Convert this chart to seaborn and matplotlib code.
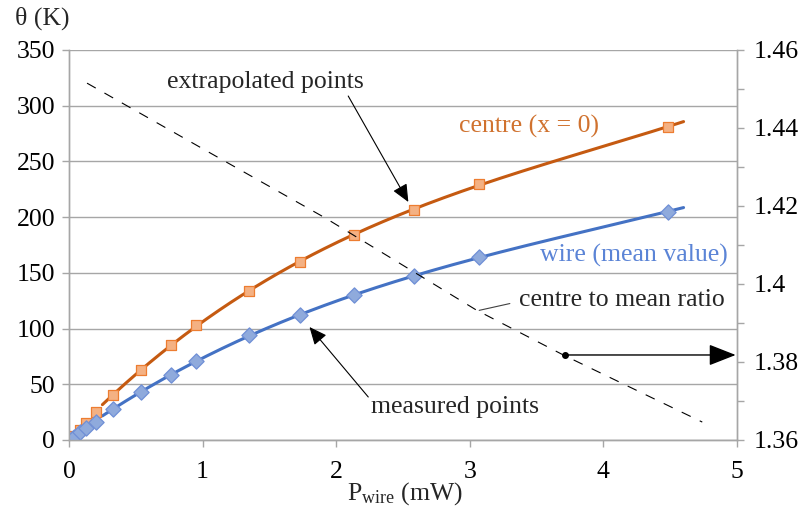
import numpy as np
import pandas as pd
import matplotlib
matplotlib.use("Agg")
import matplotlib.pyplot as plt
import seaborn as sns
from matplotlib.ticker import MultipleLocator

# Measured / extrapolated temperature rise vs. wire power
power_mw = [0, 0.02, 0.04, 0.08, 0.13, 0.2, 0.33, 0.54, 0.76, 0.95, 1.35, 1.73, 2.13, 2.58, 3.07, 4.48]
theta_centre = [0, 1.5, 4, 9, 15, 25, 40, 63, 85, 103, 134, 160, 184, 206, 230, 281]
theta_wire = [0, 1, 3, 7, 11, 16, 28, 43, 58, 71, 94, 112, 130, 147, 164, 205]

# Centre-to-mean ratio curve (right axis)
ratio_power = [0.135, 1.0, 1.92, 3.05, 3.70, 4.74]
ratio_value = [1.4515, 1.4347, 1.4169, 1.3933, 1.3818, 1.3646]

# Trend-line span
fit_start, fit_end = 0.25, 4.6

ORANGE_LINE = "#C55A11"
ORANGE_FILL = "#F4B183"
ORANGE_EDGE = "#ED7D31"
BLUE_LINE = "#4472C4"
BLUE_FILL = "#8FAADC"
BLUE_EDGE = "#6F8FD6"
GRID = "#A6A6A6"
FS = 18.5

sns.set_theme(style="white")
plt.rcParams["font.family"] = ["Liberation Serif", "DejaVu Serif"]
plt.rcParams["mathtext.fontset"] = "custom"
plt.rcParams["mathtext.rm"] = "Liberation Serif"
plt.rcParams["mathtext.it"] = "Liberation Serif:italic"

fig = plt.figure(figsize=(7.98, 5.15), dpi=100)
ax = fig.add_axes([69 / 798, 1 - 440 / 515, (737 - 69) / 798, 390 / 515])
ax2 = ax.twinx()

df = pd.DataFrame({"P": power_mw, "centre": theta_centre, "wire": theta_wire})

# Cubic trend lines fitted to the points above the low-power cluster
sel = np.array(power_mw) >= 0.3
px = np.array(power_mw)[sel]
xs = np.linspace(fit_start, fit_end, 200)
fit_c = np.polyval(np.polyfit(px, np.array(theta_centre)[sel], 3), xs)
fit_w = np.polyval(np.polyfit(px, np.array(theta_wire)[sel], 3), xs)
sns.lineplot(x=xs, y=fit_c, ax=ax, color=ORANGE_LINE, lw=2.2, zorder=3)
sns.lineplot(x=xs, y=fit_w, ax=ax, color=BLUE_LINE, lw=2.2, zorder=3)

sns.scatterplot(data=df, x="P", y="centre", ax=ax, marker="s", s=60,
                color=ORANGE_FILL, edgecolor=ORANGE_EDGE, linewidth=0.9, zorder=4)
sns.scatterplot(data=df, x="P", y="wire", ax=ax, marker="D", s=60,
                color=BLUE_FILL, edgecolor=BLUE_EDGE, linewidth=0.9, zorder=4)

# Ratio on the secondary axis
sns.lineplot(x=ratio_power, y=ratio_value, ax=ax2, color="black", lw=0.8,
             dashes=False, zorder=2).lines[0].set_dashes([9, 9])

ax.set_xlim(0, 5)
ax.set_ylim(0, 350)
ax2.set_ylim(1.36, 1.46)
ax.xaxis.set_major_locator(MultipleLocator(1))
ax.yaxis.set_major_locator(MultipleLocator(50))
ax2.yaxis.set_major_locator(MultipleLocator(0.02))
ax2.yaxis.set_minor_locator(MultipleLocator(0.01))
ax2.set_yticks(ax2.get_yticks())
ax2.set_yticklabels([f"{v:g}" for v in ax2.get_yticks()])
ax2.set_ylim(1.36, 1.46)

ax.grid(axis="y", color=GRID, lw=1)
ax.set_axisbelow(True)
for a in (ax, ax2):
    a.set_xlabel("")
    a.set_ylabel("")
    a.spines["top"].set_visible(False)
    for s in ("left", "right", "bottom"):
        a.spines[s].set_color(GRID)
        a.spines[s].set_linewidth(1)
ax.tick_params(axis="both", labelsize=FS, colors=GRID, labelcolor="black",
               length=5, width=1, direction="out")
ax.tick_params(axis="x", pad=10)
ax.tick_params(axis="y", pad=5)
ax.tick_params(left=True, bottom=True)
ax2.tick_params(axis="y", which="both", labelsize=FS, colors=GRID,
                labelcolor="black", length=5, width=1, direction="out", right=True)
ax2.tick_params(axis="y", which="major", pad=7)

# Labels
fig.text(42 / 798, 1 - 18 / 515, "θ (K)", fontsize=FS, ha="center", va="center")
fig.text(405 / 798, 1 - 494 / 515, r"P$_{\mathrm{wire}}$ (mW)", fontsize=FS,
         ha="center", va="center")

ax.text(3.44, 281, "centre (x = 0)", color="#D0722F", fontsize=FS,
        ha="center", va="center")
ax.text(4.23, 166, "wire (mean value)", color="#5B84D6", fontsize=FS,
        ha="center", va="center")

arrow = dict(arrowstyle="-|>,head_length=0.9,head_width=0.4", color="black",
             lw=0.8, shrinkA=0, shrinkB=0)
ax.text(1.467, 321, "extrapolated points", fontsize=FS, ha="center", va="center")
ax.annotate("", xy=(2.54, 213.6), xytext=(2.09, 308.7), arrowprops=arrow)

ax.text(2.89, 29.6, "measured points", fontsize=FS, ha="center", va="center")
ax.annotate("", xy=(1.80, 101.4), xytext=(2.24, 38.6), arrowprops=arrow)

ax.text(3.37, 125.6, "centre to mean ratio", fontsize=FS, ha="left", va="center")
ax.annotate("", xy=(3.05, 115.8), xytext=(3.32, 123),
            arrowprops=dict(arrowstyle="-", color="#404040", lw=0.8))

ax.plot([3.71], [76.3], "o", color="black", ms=4, zorder=5)
ax.annotate("", xy=(4.99, 76.3), xytext=(3.71, 76.3), annotation_clip=False,
            arrowprops=dict(arrowstyle="-|>,head_length=1.4,head_width=0.55",
                            color="black", lw=1.0, shrinkA=0, shrinkB=0))

fig.savefig("out.png", dpi=100)
